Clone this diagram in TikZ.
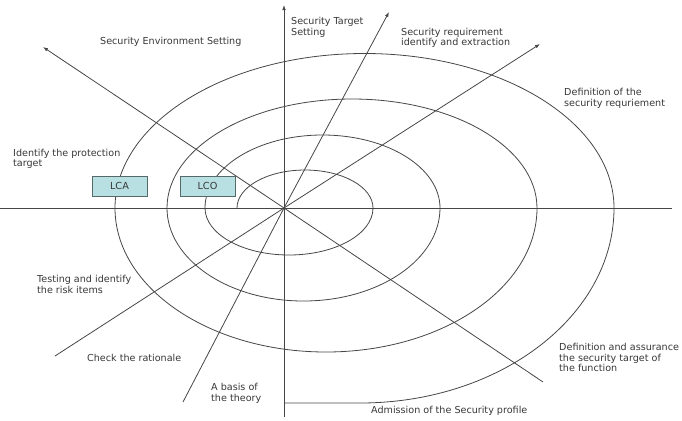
\documentclass[tikz,border=0pt]{standalone}
\usepackage{fontspec}
\setmainfont{DejaVu Sans}
\usetikzlibrary{arrows.meta}
\definecolor{linegray}{RGB}{70,70,70}
\definecolor{textgray}{RGB}{55,55,55}
\definecolor{boxfill}{RGB}{184,224,226}
\definecolor{boxline}{RGB}{85,105,105}
\begin{document}
\begin{tikzpicture}[x=1bp,y=1bp,
  axis/.style={draw=linegray,line width=0.8bp},
  ray/.style={draw=linegray,line width=0.8bp},
  arrowray/.style={ray,-{Latex[length=5bp,width=3.6bp]}},
  spiral/.style={draw=linegray,line width=0.8bp},
  phase/.style={draw=boxline,fill=boxfill,line width=0.8bp,minimum width=55bp,minimum height=20bp,inner sep=0pt,
    font=\fontsize{9.7bp}{10.5bp}\selectfont,text=textgray},
  lbl/.style={anchor=west,inner sep=0pt,align=left,text=textgray,
    font=\fontsize{9.6bp}{10.4bp}\selectfont}]
\useasboundingbox (0,0) rectangle (682,-420);

% origin of the spiral and the ends of the rays
\coordinate (c) at (284,-208);
\coordinate (west) at (0,-208);
\coordinate (east) at (672,-208);
\coordinate (north) at (284,-5);
\coordinate (south) at (284,-417);
\coordinate (nw) at (43,-47);
\coordinate (nne) at (389,-12);
\coordinate (ne) at (540,-44);
\coordinate (se) at (543,-382);
\coordinate (sw) at (55,-356);
\coordinate (ssw) at (183,-402);

% axes
\draw[axis] (west) -- (east);
\draw[axis,-{Latex[length=5bp,width=3.6bp]}] (south) -- (north);

% rays
\draw[arrowray] (c) -- (nw);
\draw[arrowray] (c) -- (nne);
\draw[arrowray] (c) -- (ne);
\draw[ray] (c) -- (se);
\draw[ray] (c) -- (sw);
\draw[ray] (c) -- (ssw);

% spiral built from alternating half ellipses
\draw[spiral] (237,-208)
  arc[start angle=180,end angle=0,x radius=68,y radius=38]
  arc[start angle=0,end angle=-180,x radius=84,y radius=47]
  arc[start angle=180,end angle=0,x radius=117.5,y radius=73]
  arc[start angle=0,end angle=-180,x radius=136.5,y radius=93]
  arc[start angle=180,end angle=0,x radius=185,y radius=109]
  arc[start angle=0,end angle=-180,x radius=211,y radius=144]
  arc[start angle=180,end angle=0,x radius=249.5,y radius=154.5]
  arc[start angle=0,end angle=-90,x radius=254,y radius=195]
  -- (284,-403);

% phase boxes
\node[phase] (lca) at (119.5,-186) {LCA};
\node[phase] (lco) at (207.5,-186) {LCO};

% labels
\node[lbl] (envset) at (100,-42) {Security Environment Setting};
\node[lbl] (tgtset) at (291,-27.5) {Security Target\\Setting};
\node[lbl] (reqid) at (401,-38) {Security requirement\\identify and extraction};
\node[lbl] (reqdef) at (564,-98.5) {Definition of the\\security requriement};
\node[lbl] (protgt) at (13,-159) {Identify the protection\\target};
\node[lbl] (risk) at (37,-284.5) {Testing and identify\\the risk items};
\node[lbl] (ratio) at (87,-358) {Check the rationale};
\node[lbl] (basis) at (211,-393.5) {A basis of\\the theory};
\node[lbl] (assur) at (559,-357.5) {Definition and assurance\\the security target of\\the function};
\node[lbl] (admit) at (371,-411) {Admission of the Security profile};
\end{tikzpicture}
\end{document}
